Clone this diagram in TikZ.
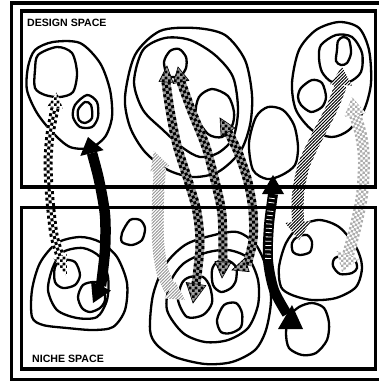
\documentclass[tikz,border=0pt]{standalone}
\usepackage{fontspec}
\newfontfamily\labfont{Liberation Sans}
\usetikzlibrary{calc,patterns}
\pgfdeclarepatternformonly{bigcheck}{\pgfqpoint{0pt}{0pt}}{\pgfqpoint{6pt}{6pt}}{\pgfqpoint{6pt}{6pt}}{%
  \pgfpathrectangle{\pgfpointorigin}{\pgfqpoint{3pt}{3pt}}%
  \pgfpathrectangle{\pgfqpoint{3pt}{3pt}}{\pgfqpoint{3pt}{3pt}}%
  \pgfusepath{fill}}
\pgfdeclarepatternformonly{smallcheck}{\pgfqpoint{0pt}{0pt}}{\pgfqpoint{4.8pt}{4.8pt}}{\pgfqpoint{4.8pt}{4.8pt}}{%
  \pgfpathrectangle{\pgfpointorigin}{\pgfqpoint{2.4pt}{2.4pt}}%
  \pgfpathrectangle{\pgfqpoint{2.4pt}{2.4pt}}{\pgfqpoint{2.4pt}{2.4pt}}%
  \pgfusepath{fill}}
\pgfdeclarepatternformonly{hatchA}{\pgfqpoint{-1pt}{-1pt}}{\pgfqpoint{4.5pt}{4.5pt}}{\pgfqpoint{3.2pt}{3.2pt}}{%
  \pgfsetlinewidth{0.9pt}%
  \pgfpathmoveto{\pgfqpoint{-0.2pt}{-0.2pt}}%
  \pgfpathlineto{\pgfqpoint{3.4pt}{3.4pt}}%
  \pgfusepath{stroke}}
\newcommand\arrhead[4]{\path[#4] (#1) -- ($(#2)!#3!90:(#1)$) -- ($(#2)!#3!-90:(#1)$) -- cycle;}
% three-column checkered shaft: #1 ground colour, #2 square colour, #3 path
\newcommand\checkpath[3]{%
  \draw[#1, line width=9pt] #3;
  \draw[#2, line width=9pt, dash pattern=on 3pt off 3pt] #3;
  \draw[#1, line width=3pt] #3;
  \draw[#2, line width=3pt, dash pattern=on 3pt off 3pt, dash phase=3pt] #3;}
% five-column fine checkered shaft
\newcommand\finecheckpath[3]{%
  \draw[#1, line width=12pt] #3;
  \draw[#2, line width=12pt, dash pattern=on 2.4pt off 2.4pt] #3;
  \draw[#1, line width=7.2pt] #3;
  \draw[#2, line width=7.2pt, dash pattern=on 2.4pt off 2.4pt, dash phase=2.4pt] #3;
  \draw[#1, line width=2.4pt] #3;
  \draw[#2, line width=2.4pt, dash pattern=on 2.4pt off 2.4pt] #3;}
\tikzset{
  blob/.style={draw=black, line width=2.3pt},
  frame/.style={draw=black, line width=3.2pt},
  lab/.style={anchor=base west, inner sep=0pt, font=\labfont\bfseries\fontsize{10.6}{12}\selectfont},
  checkhead/.style={preaction={fill=white}, pattern=bigcheck, pattern color=black},
  darkhead/.style={preaction={fill=gray!75}, pattern=bigcheck, pattern color=black, draw=black, line width=0.6pt},
  lighthead/.style={preaction={fill=white}, pattern=smallcheck, pattern color=gray!65},
  hatchfill/.style={preaction={fill=white}, pattern=hatchA, pattern color=#1},
}
\begin{document}
\begin{tikzpicture}[x=1pt,y=-1pt]
\useasboundingbox (0,0) rectangle (379,382);
% ---------- blobs, design space
\draw[blob] plot[smooth cycle] coordinates {(28,67) (35,50) (53,42) (80,43) (100,63) (110,90) (112,117) (105,137) (90,148) (70,147) (53,133) (37,113) (27,90)};
\draw[blob] plot[smooth cycle] coordinates {(35,70) (38,55) (57,47) (72,53) (77,73) (73,92) (60,97) (45,95) (35,88)};
\draw[blob] plot[smooth cycle] coordinates {(73,117) (75,105) (87,95) (97,102) (98,117) (92,127) (80,127)};
\draw[blob] plot[smooth cycle] coordinates {(79,120) (78,110) (85,102) (91,105) (92,118) (85,123)};
\draw[blob] plot[smooth cycle] coordinates {(125,97) (135,55) (160,31) (195,28) (225,35) (245,60) (252,95) (250,125) (240,152) (218,172) (193,177) (168,170) (145,152) (130,127)};
\draw[blob] plot[smooth cycle] coordinates {(134,82) (143,50) (165,38) (190,40) (215,55) (233,77) (238,110) (233,138) (218,153) (200,157) (183,148) (163,130) (143,110)};
\draw[blob] plot[smooth cycle] coordinates {(164,62) (170,51) (179,49) (186,57) (186,68) (180,76) (168,76)};
\draw[blob] plot[smooth cycle] coordinates {(196,115) (199,97) (212,89) (228,96) (234,112) (232,126) (222,137) (208,134)};
\draw[blob] plot[smooth cycle] coordinates {(249,143) (256,117) (268,107) (283,110) (294,125) (298,147) (295,165) (282,175) (267,179) (253,170)};
\draw[blob] plot[smooth cycle] coordinates {(292,83) (299,50) (316,30) (339,22) (359,28) (369,50) (371,83) (364,110) (349,130) (332,137) (312,130) (296,110)};
\draw[blob] plot[smooth cycle] coordinates {(319,58) (321,45) (336,35) (352,37) (362,53) (361,72) (349,82) (332,82) (322,72)};
\draw[blob] plot[smooth cycle] coordinates {(337,50) (338,41) (343,37) (349,40) (351,53) (347,63) (341,65) (336,61)};
\draw[blob] plot[smooth cycle] coordinates {(298,97) (301,88) (312,80) (322,83) (326,97) (322,107) (311,112) (301,105)};
% ---------- blobs, niche space
\draw[blob] plot[smooth cycle] coordinates {(122,233) (130,220) (140,220) (145,228) (142,240) (132,245) (122,242)};
\draw[blob] plot[smooth cycle] coordinates {(32,290) (40,263) (57,243) (80,237) (100,242) (117,257) (127,283) (125,310) (113,327) (93,330) (67,328) (43,325) (32,317)};
\draw[blob] plot[smooth cycle] coordinates {(48,290) (53,267) (63,252) (83,248) (100,257) (108,277) (107,300) (97,317) (77,318) (57,310)};
\draw[blob] plot[smooth cycle] coordinates {(55,267) (63,260) (75,262) (80,275) (75,285) (63,288) (55,282)};
\draw[blob] plot[smooth cycle] coordinates {(78,297) (83,285) (95,282) (103,287) (105,300) (100,308) (90,312) (82,308)};
\draw[blob] plot[smooth cycle] coordinates {(150,330) (153,295) (165,265) (185,245) (210,236) (237,232) (256,245) (267,270) (271,300) (266,330) (255,350) (232,362) (205,364) (175,357) (157,345)};
\draw[blob] plot[smooth cycle] coordinates {(167,310) (170,283) (183,264) (205,253) (228,250) (248,258) (258,280) (258,305) (248,328) (228,340) (205,342) (183,333)};
\draw[blob] plot[smooth cycle] coordinates {(178,300) (182,283) (190,277) (203,277) (210,287) (212,303) (203,315) (187,317)};
\draw[blob] plot[smooth cycle] coordinates {(212,270) (217,262) (227,260) (236,267) (236,280) (231,288) (221,292) (213,285)};
\draw[blob] plot[smooth cycle] coordinates {(217,320) (224,305) (236,303) (242,313) (241,327) (231,333) (221,332)};
\draw[blob] plot[smooth cycle] coordinates {(279,267) (286,243) (299,227) (319,220) (339,227) (356,247) (362,267) (356,287) (336,298) (312,300) (292,295) (281,287)};
\draw[blob] plot[smooth cycle] coordinates {(292,243) (297,237) (307,235) (312,242) (310,252) (300,255) (293,252)};
\draw[blob] plot[smooth cycle] coordinates {(333,266) (335,258) (347,255) (355,260) (357,268) (352,273) (340,274)};
\draw[blob] plot[smooth cycle] coordinates {(286,333) (289,317) (299,307) (312,303) (324,308) (329,323) (327,340) (316,353) (302,355) (289,348)};
% ---------- arrow end points
\coordinate (a1t) at (57,92);   \coordinate (a1b) at (55,108);
\coordinate (a1bb) at (60,256); \coordinate (a1tb) at (67,277);
\coordinate (a2t) at (88,137);  \coordinate (a2b) at (92,153);
\coordinate (a2bb) at (101,286);\coordinate (a2tb) at (93,303);
\coordinate (a3t) at (167,66);  \coordinate (a3b) at (166,82);
\coordinate (a3bb) at (196,284);\coordinate (a3tb) at (193,303);
\coordinate (a4t) at (178,67);  \coordinate (a4b) at (181,82);
\coordinate (a4bb) at (223,262);\coordinate (a4tb) at (222,278);
\coordinate (a5t) at (220,118); \coordinate (a5b) at (228,132);
\coordinate (a5bb) at (247,265);\coordinate (a5tb) at (232,270);
\coordinate (a6t) at (273,175); \coordinate (a6b) at (273,194);
\coordinate (a6e) at (287,314);
\coordinate (a7t) at (154,151); \coordinate (a7b) at (160,169);
\coordinate (a7bb) at (170,290);\coordinate (a7tb) at (185,300);
\coordinate (a8t) at (342,67);  \coordinate (a8b) at (341,85);
\coordinate (a8bb) at (298,222);\coordinate (a8tb) at (299,240);
\coordinate (a9t) at (352,97);  \coordinate (a9b) at (355,115);
\coordinate (a9bb) at (348,255);\coordinate (a9tb) at (342,272);
% ---------- light hatched arrow
\path[hatchfill=gray!80] plot[smooth] coordinates {(154,168) (152,200) (152,240) (156,271) (165,293)}
   -- plot[smooth] coordinates {(176,287) (168,268) (164,240) (164,200) (166,168)} -- cycle;
\arrhead{a7t}{a7b}{10pt}{hatchfill=gray!80}
\arrhead{a7tb}{a7bb}{10pt}{hatchfill=gray!80}
% ---------- checkered arrow (left)
\checkpath{white}{black}{plot[smooth] coordinates {(a1b) (50,135) (48,165) (50,200) (54,235) (a1bb)}}
\arrhead{a1t}{a1b}{8pt}{checkhead}
\arrhead{a1tb}{a1bb}{7pt}{checkhead}
% ---------- black arrow (left)
\draw[line width=10.5pt] plot[smooth] coordinates {(a2b) (99,180) (105,215) (105,250) (a2bb)};
\arrhead{a2t}{a2b}{12pt}{fill=black}
\arrhead{a2tb}{a2bb}{11pt}{fill=black}
% ---------- dark checkered arrows (centre)
\checkpath{gray!75}{black}{plot[smooth] coordinates {(a3b) (170,110) (177,145) (188,180) (197,212) (200,245) (a3bb)}}
\arrhead{a3t}{a3b}{7pt}{darkhead}
\arrhead{a3tb}{a3bb}{10pt}{darkhead}
\checkpath{gray!75}{black}{plot[smooth] coordinates {(a4b) (192,112) (206,147) (216,185) (222,215) (a4bb)}}
\arrhead{a4t}{a4b}{8pt}{darkhead}
\arrhead{a4tb}{a4bb}{8pt}{darkhead}
\checkpath{gray!75}{black}{plot[smooth] coordinates {(a5b) (238,152) (248,182) (253,212) (253,240) (a5bb)}}
\arrhead{a5t}{a5b}{8pt}{darkhead}
\arrhead{a5tb}{a5bb}{7pt}{darkhead}
% ---------- black ladder arrow
\draw[line width=10pt] plot[smooth] coordinates {(a6b) (269,225) (268,260) (274,290) (a6e)};
\draw[white, line width=6pt, dash pattern=on 0.8pt off 3.5pt] plot[smooth] coordinates {(272,198) (269,225) (268,262)};
\arrhead{a6t}{a6b}{11pt}{fill=black}
\fill (278,329) -- (303,329) -- (292,305) -- cycle;
% ---------- right hatched arrow
\path[hatchfill=black] plot[smooth] coordinates {(335.4,82.8) (326.6,105.4) (312.5,132.5) (298.3,163.1) (292,194.4) (292,223)}
   -- plot[smooth] coordinates {(304,223) (304,195.6) (309.7,166.9) (323.5,137.5) (337.4,110.6) (346.6,87.2)} -- cycle;
\arrhead{a8t}{a8b}{11pt}{hatchfill=black}
\arrhead{a8tb}{a8bb}{13pt}{hatchfill=black}
% ---------- right light checkered arrow
\finecheckpath{white}{gray!65}{plot[smooth] coordinates {(a9b) (361,135) (364,160) (362,195) (356,225) (a9bb)}}
\arrhead{a9t}{a9b}{11pt}{lighthead}
\arrhead{a9tb}{a9bb}{12pt}{lighthead}
% ---------- frames
\draw[frame] (384,3) -- (11.5,3) -- (11.5,379.5) -- (384,379.5);
\draw[frame] (21.5,11) rectangle (375.5,187);
\draw[frame] (21.5,207.3) rectangle (375.5,369);
\node[lab] (design) at (27,27) {DESIGN SPACE};
\node[lab] (niche) at (32,362.7) {NICHE SPACE};
\end{tikzpicture}
\end{document}
